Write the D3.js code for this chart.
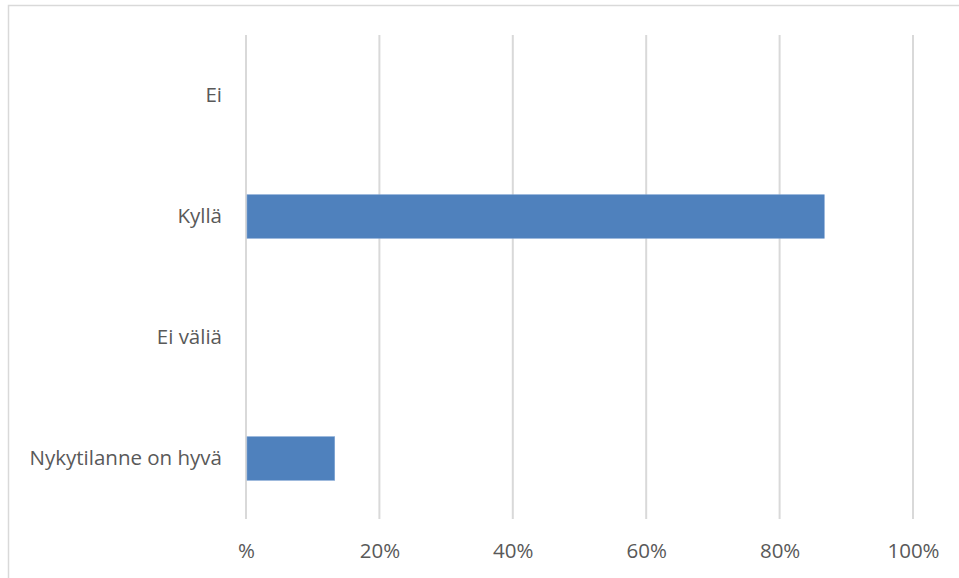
<!DOCTYPE html>
<html>
<head>
<meta charset="utf-8">
<script src="https://cdn.jsdelivr.net/npm/d3@7"></script>
<style>
  html, body { margin: 0; padding: 0; background: #fff; }
  svg { display: block; }
</style>
</head>
<body>
<svg id="chart" width="959" height="578"></svg>
<script>
// Answer categories, listed top to bottom
const categories = ["Ei", "Kyllä", "Ei väliä", "Nykytilanne on hyvä"];
// Share of respondents per answer (percent)
const shares = [0, 86.7, 0, 13.3];
// Axis ticks and their printed labels
const tickValues = [0, 20, 40, 60, 80, 100];
const tickLabels = ["%", "20%", "40%", "60%", "80%", "100%"];

const svg = d3.select("#chart");
const W = 959, H = 578;
const plot = { left: 246, right: 913, top: 35, bottom: 519 };
const font = "'Open Sans', sans-serif";
const fontSize = 20.5;
const textColor = "#595959";

// Outer frame
svg.append("rect")
  .attr("x", 8.5).attr("y", 5.5)
  .attr("width", W + 10).attr("height", H + 10)
  .attr("fill", "none").attr("stroke", "#d9d9d9").attr("stroke-width", 1.5);

const x = d3.scaleLinear().domain([0, 100]).range([plot.left, plot.right]);
const y = d3.scaleBand().domain(categories).range([plot.top, plot.bottom]).paddingInner(0.64).paddingOuter(0.32);

// Vertical gridlines
svg.append("g").selectAll("line").data(tickValues).join("line")
  .attr("x1", d => x(d)).attr("x2", d => x(d))
  .attr("y1", plot.top).attr("y2", plot.bottom)
  .attr("stroke", "#d9d9d9").attr("stroke-width", 2);

// Bars
svg.append("g").selectAll("rect").data(categories).join("rect")
  .attr("x", x(0) + 1)
  .attr("y", d => y(d))
  .attr("width", (d, i) => Math.max(0, x(shares[i]) - x(0) - 1))
  .attr("height", y.bandwidth())
  .attr("fill", "#4f81bd")
  .attr("stroke", "#7ea3d3").attr("stroke-width", 0.6);

// Category labels
const yAxis = d3.axisLeft(y).tickSize(0).tickPadding(24);
const gy = svg.append("g").attr("transform", `translate(${plot.left},0)`).call(yAxis);
gy.select(".domain").remove();
gy.selectAll("text").attr("font-family", font).attr("font-size", fontSize).attr("fill", textColor);

// Percentage axis labels
const xAxis = d3.axisBottom(x).tickValues(tickValues).tickSize(0).tickPadding(24)
  .tickFormat((d, i) => tickLabels[i]);
const gx = svg.append("g").attr("transform", `translate(0,${plot.bottom})`).call(xAxis);
gx.select(".domain").remove();
gx.selectAll("text").attr("font-family", font).attr("font-size", fontSize).attr("fill", textColor);
</script>
</body>
</html>
